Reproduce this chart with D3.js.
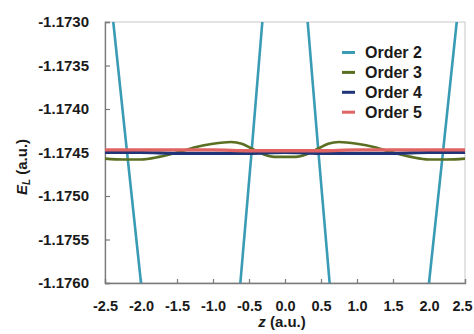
<!DOCTYPE html>
<html>
<head>
<meta charset="utf-8">
<script src="https://cdn.jsdelivr.net/npm/d3@7"></script>
<style>
  html, body { margin: 0; padding: 0; background: #fff; }
  svg { display: block; font-family: "Liberation Sans", Arial, sans-serif; }
</style>
</head>
<body>
<svg id="chart" width="474" height="334"></svg>
<script>
// ---- data ----
const seriesNames = ["Order 2", "Order 3", "Order 4", "Order 5"];
const seriesColors = ["#3a9bb5", "#5a6f22", "#1f3577", "#e06464"];

const zOrder2 = [-2.5, -2.385, -2.2, -2.0, -1.8, -1.3, -0.8, -0.62, -0.47, -0.315, -0.15, 0, 0.15, 0.315, 0.47, 0.62, 0.8, 1.3, 1.8, 2.0, 2.2, 2.385, 2.5];
const eOrder2 = [-1.1722, -1.1730, -1.17445, -1.1760, -1.1773, -1.1790, -1.1773, -1.1760, -1.17455, -1.1730, -1.1720, -1.1717, -1.1720, -1.1730, -1.17455, -1.1760, -1.1773, -1.1790, -1.1773, -1.1760, -1.17445, -1.1730, -1.1722];

const zOrder3 = [-2.5, -2.25, -2.0, -1.75, -1.5, -1.25, -1.0, -0.75, -0.6, -0.45, -0.3, -0.15, 0, 0.15, 0.3, 0.45, 0.6, 0.75, 1.0, 1.25, 1.5, 1.75, 2.0, 2.25, 2.5];
const eOrder3 = [-1.17457, -1.17458, -1.17458, -1.17455, -1.17450, -1.17444, -1.17440, -1.17438, -1.17440, -1.17446, -1.17452, -1.17455, -1.17455, -1.17455, -1.17452, -1.17446, -1.17440, -1.17438, -1.17440, -1.17444, -1.17450, -1.17455, -1.17458, -1.17458, -1.17457];

const zOrder4 = [-2.5, -2.0, -1.5, -1.0, -0.5, 0, 0.5, 1.0, 1.5, 2.0, 2.5];
const eOrder4 = [-1.17450, -1.17450, -1.17451, -1.17451, -1.17451, -1.17450, -1.17451, -1.17451, -1.17451, -1.17450, -1.17450];

const zOrder5 = [-2.5, -2.0, -1.5, -1.0, -0.5, 0, 0.5, 1.0, 1.5, 2.0, 2.5];
const eOrder5 = [-1.17447, -1.17447, -1.17447, -1.17447, -1.17448, -1.17448, -1.17448, -1.17447, -1.17447, -1.17447, -1.17447];

const xTicks = [-2.5, -2.0, -1.5, -1.0, -0.5, 0.0, 0.5, 1.0, 1.5, 2.0, 2.5];
const yTicks = [-1.1760, -1.1755, -1.1750, -1.1745, -1.1740, -1.1735, -1.1730];

// ---- layout ----
const svg = d3.select("#chart");
const mLeft = 105, mRight = 465, mTop = 22, mBottom = 283;

const x = d3.scaleLinear().domain([-2.5, 2.5]).range([mLeft, mRight]);
const y = d3.scaleLinear().domain([-1.1760, -1.1730]).range([mBottom, mTop]);

const zs = [zOrder2, zOrder3, zOrder4, zOrder5];
const es = [eOrder2, eOrder3, eOrder4, eOrder5];
const series = seriesNames.map((name, i) => ({
  name, color: seriesColors[i],
  pts: zs[i].map((z, j) => [z, es[i][j]])
}));

svg.append("defs").append("clipPath").attr("id", "clip")
  .append("rect").attr("x", mLeft).attr("y", mTop)
  .attr("width", mRight - mLeft).attr("height", mBottom - mTop);

// frame (top/right light)
svg.append("rect").attr("x", mLeft).attr("y", mTop)
  .attr("width", mRight - mLeft).attr("height", mBottom - mTop)
  .attr("fill", "none").attr("stroke", "#c8c8c8").attr("stroke-width", 1);

const fmtMinus = f => v => f(v).replace("\u2212", "-");

// axes
const xAxis = d3.axisBottom(x).tickValues(xTicks).tickSize(-4).tickPadding(18)
  .tickFormat(fmtMinus(d3.format(".1f")));
const yAxis = d3.axisLeft(y).tickValues(yTicks).tickSize(-5).tickPadding(16)
  .tickFormat(fmtMinus(d3.format(".4f")));

const gx = svg.append("g").attr("transform", `translate(0,${mBottom})`).call(xAxis);
const gy = svg.append("g").attr("transform", `translate(${mLeft},0)`).call(yAxis);
[gx, gy].forEach(g => {
  g.select(".domain").attr("stroke", "#7a7a7a").attr("stroke-width", 1.3);
  g.selectAll(".tick line").attr("stroke", "#7a7a7a").attr("stroke-width", 1.2);
  g.selectAll(".tick text").attr("fill", "#1a1a1a")
    .style("font-size", "15px").style("font-weight", "bold")
    .style("font-family", "'Liberation Sans', Arial, sans-serif");
});
// keep the last x label inside the picture, as in the reference
gx.selectAll(".tick text").filter(d => d === xTicks[xTicks.length - 1]).attr("dx", -3);
gx.selectAll(".tick text").style("font-size", "14.5px");

// lines
const curveLine = d3.line().x(d => x(d[0])).y(d => y(d[1])).curve(d3.curveMonotoneX);
const straightLine = d3.line().x(d => x(d[0])).y(d => y(d[1]));
const widths = [2.6, 2.6, 3.2, 3.4];
const plot = svg.append("g").attr("clip-path", "url(#clip)");
series.forEach((s, i) => {
  plot.append("path").datum(s.pts)
    .attr("d", i === 0 ? straightLine : curveLine)
    .attr("fill", "none").attr("stroke", s.color)
    .attr("stroke-width", widths[i]).attr("stroke-linejoin", "round");
});

// legend
const lg = svg.append("g");
series.forEach((s, i) => {
  const yy = 52.5 + i * 19.9;
  lg.append("line").attr("x1", 342).attr("x2", 355).attr("y1", yy).attr("y2", yy)
    .attr("stroke", s.color).attr("stroke-width", 3);
  lg.append("text").attr("x", 365).attr("y", yy).attr("dy", "0.36em")
    .attr("fill", "#1a1a1a").style("font-size", "16px").style("font-weight", "bold")
    .text(s.name);
});

// axis titles
svg.append("text").attr("x", 282).attr("y", 327).attr("text-anchor", "middle")
  .style("font-size", "15px").style("font-weight", "bold").attr("fill", "#1a1a1a")
  .call(t => {
    t.append("tspan").style("font-style", "italic").text("z");
    t.append("tspan").text(" (a.u.)");
  });

svg.append("text").attr("transform", "translate(27,167) rotate(-90)")
  .attr("text-anchor", "middle")
  .style("font-size", "15px").style("font-weight", "bold").attr("fill", "#1a1a1a")
  .call(t => {
    t.append("tspan").style("font-style", "italic").text("E");
    t.append("tspan").style("font-style", "italic").style("font-size", "10px")
      .attr("dy", "3").text("L");
    t.append("tspan").attr("dy", "-3").text(" (a.u.)");
  });
</script>
</body>
</html>
